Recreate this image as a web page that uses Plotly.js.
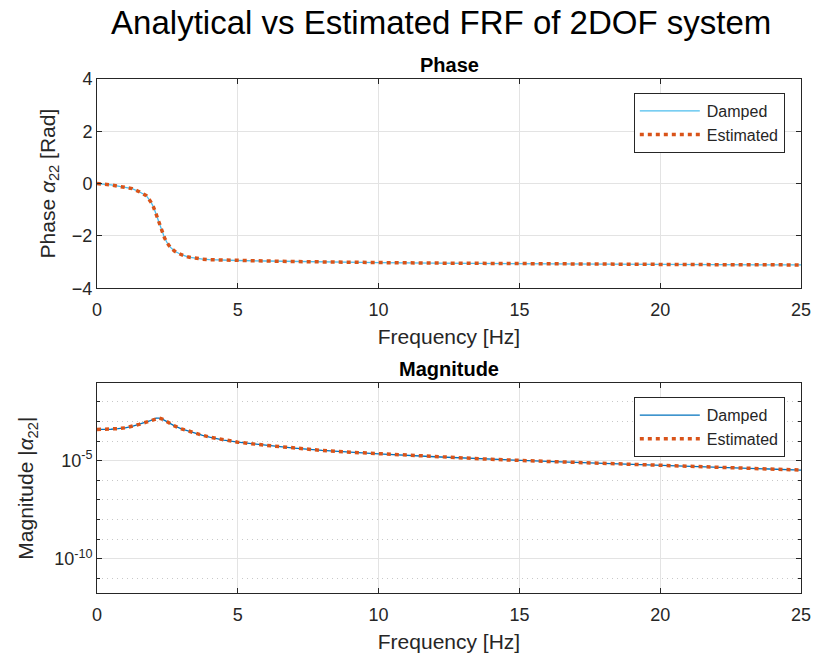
<!DOCTYPE html>
<html>
<head>
<meta charset="utf-8">
<script src="https://cdn.plot.ly/plotly-3.0.1.min.js"></script>
<style>html,body{margin:0;padding:0;background:#fff;}#chart{width:814px;height:654px;}</style>
</head>
<body>
<div id="chart"></div>
<script>
// Frequency grid (Hz)
const freq = [0,0.25,0.5,0.75,1,1.25,1.5,1.75,1.9,2.0,2.1,2.2,2.3,2.4,2.5,2.6,2.75,3,3.25,3.5,3.75,4,4.5,5,6,7,8,9,10,12,14,16,18,20,22,25];
// Phase of alpha22 (rad) - analytical (damped)
const phaseDamped = [0,-0.02,-0.05,-0.10,-0.14,-0.19,-0.31,-0.46,-0.68,-0.88,-1.17,-1.50,-1.82,-2.08,-2.28,-2.43,-2.58,-2.72,-2.81,-2.86,-2.89,-2.91,-2.93,-2.94,-2.96,-2.98,-3.00,-3.01,-3.02,-3.04,-3.06,-3.07,-3.08,-3.09,-3.10,-3.11];
// Phase - estimated
const phaseEstimated = [0,-0.02,-0.05,-0.10,-0.14,-0.19,-0.31,-0.46,-0.68,-0.88,-1.17,-1.50,-1.82,-2.08,-2.28,-2.43,-2.58,-2.72,-2.81,-2.86,-2.89,-2.91,-2.93,-2.94,-2.96,-2.98,-3.00,-3.01,-3.02,-3.04,-3.06,-3.07,-3.08,-3.09,-3.10,-3.11];
// Magnitude |alpha22| - analytical (damped)
const magDamped = [3.89e-4,3.89e-4,3.98e-4,4.27e-4,4.68e-4,5.62e-4,7.08e-4,9.12e-4,1.10e-3,1.26e-3,1.45e-3,1.48e-3,1.35e-3,1.12e-3,9.33e-4,7.76e-4,5.89e-4,4.17e-4,3.16e-4,2.45e-4,1.95e-4,1.58e-4,1.12e-4,8.71e-5,6.03e-5,4.37e-5,3.31e-5,2.69e-5,2.24e-5,1.58e-5,1.17e-5,9.12e-6,7.24e-6,5.89e-6,4.57e-6,3.31e-6];
// Magnitude - estimated
const magEstimated = [3.89e-4,3.89e-4,3.98e-4,4.27e-4,4.68e-4,5.62e-4,7.08e-4,9.12e-4,1.10e-3,1.26e-3,1.45e-3,1.48e-3,1.35e-3,1.12e-3,9.33e-4,7.76e-4,5.89e-4,4.17e-4,3.16e-4,2.45e-4,1.95e-4,1.58e-4,1.12e-4,8.71e-5,6.03e-5,4.37e-5,3.31e-5,2.69e-5,2.24e-5,1.58e-5,1.17e-5,9.12e-6,7.24e-6,5.89e-6,4.57e-6,3.31e-6];
// Tick labels
const xTicks = [0,5,10,15,20,25];
const phaseTicks = [-4,-2,0,2,4];
const magTickVals = [1e-10,1e-5];
const magTickText = ['10<sup>-10</sup>','10<sup>-5</sup>'];
const magMinorVals = [1e-11,1e-9,1e-8,1e-7,1e-6,1e-4,1e-3,1e-2];

const FONT = 'Liberation Sans, Arial, Helvetica, sans-serif';
const AX = '#262626';
const GRID = '#e3e3e3';

const traces = [
  {x: freq, y: phaseDamped, type:'scatter', mode:'lines', name:'Damped',
   line:{color:'#4DBEEE', width:1.3}, xaxis:'x', yaxis:'y', legend:'legend'},
  {x: freq, y: phaseEstimated, type:'scatter', mode:'lines', name:'Estimated',
   line:{color:'#D95319', width:3.5, dash:'4px,4px'}, xaxis:'x', yaxis:'y', legend:'legend'},
  {x: freq, y: magDamped, type:'scatter', mode:'lines', name:'Damped',
   line:{color:'#0072BD', width:1.3}, xaxis:'x2', yaxis:'y2', legend:'legend2'},
  {x: freq, y: magEstimated, type:'scatter', mode:'lines', name:'Estimated',
   line:{color:'#D95319', width:3.5, dash:'4px,4px'}, xaxis:'x2', yaxis:'y2', legend:'legend2'}
];

function xAxis(anchor){
  return {
    anchor: anchor, domain:[0,1], range:[0,25], tickvals: xTicks,
    showline:true, linecolor:AX, linewidth:1, mirror:'ticks',
    ticks:'inside', ticklen:5, tickcolor:AX, ticklabelstandoff:5,
    showgrid:true, gridcolor:GRID, gridwidth:1, zeroline:false,
    tickfont:{family:FONT, size:18, color:AX},
    title:{text:'Frequency [Hz]', font:{family:FONT, size:21, color:AX}, standoff:10}
  };
}

const legendCommon = {
  xanchor:'right', yanchor:'top', x:0.977,
  bgcolor:'#ffffff', bordercolor:AX, borderwidth:1,
  font:{family:FONT, size:16, color:AX}, tracegroupgap:0, itemwidth:62
};

const layout = {
  width:814, height:654,
  paper_bgcolor:'#ffffff', plot_bgcolor:'#ffffff',
  margin:{l:97, r:13, t:79, b:61},
  title:{text:'Analytical vs Estimated FRF of 2DOF system', x:0.542, xanchor:'center', y:0.983, yanchor:'top',
         font:{family:FONT, size:33, color:'#000000'}},
  showlegend:true,
  xaxis: xAxis('y'),
  yaxis: {
    domain:[0.593,1], range:[-4,4], tickvals: phaseTicks,
    showline:true, linecolor:AX, linewidth:1, mirror:'ticks',
    ticks:'inside', ticklen:5, tickcolor:AX,
    showgrid:true, gridcolor:GRID, gridwidth:1, zeroline:false,
    tickfont:{family:FONT, size:18, color:AX},
    title:{text:'Phase <i>α</i><sub>22</sub> [Rad]', font:{family:FONT, size:21, color:AX}, standoff:10}
  },
  xaxis2: xAxis('y2'),
  yaxis2: {
    domain:[0,0.408], type:'log', range:[-11.74,-1.06],
    tickmode:'array', tickvals: magTickVals, ticktext: magTickText,
    showline:true, linecolor:AX, linewidth:1, mirror:'ticks',
    ticks:'inside', ticklen:5, tickcolor:AX,
    showgrid:true, gridcolor:GRID, gridwidth:1, zeroline:false,
    tickfont:{family:FONT, size:18, color:AX},
    minor:{tickmode:'array', tickvals: magMinorVals, ticks:'inside', ticklen:3, tickcolor:AX,
           showgrid:true, gridcolor:'#c8c8c8', griddash:'1px,4px', gridwidth:1},
    title:{text:'Magnitude |<i>α</i><sub>22</sub>|', font:{family:FONT, size:21, color:AX}, standoff:14}
  },
  legend: Object.assign({}, legendCommon, {y:0.973}),
  legend2: Object.assign({}, legendCommon, {y:0.381}),
  annotations:[
    {text:'<b>Phase</b>', xref:'paper', yref:'paper', x:0.5, y:1.0, yshift:1, xanchor:'center', yanchor:'bottom',
     showarrow:false, font:{family:FONT, size:20, color:'#000000'}},
    {text:'<b>Magnitude</b>', xref:'paper', yref:'paper', x:0.5, y:0.408, yshift:1, xanchor:'center', yanchor:'bottom',
     showarrow:false, font:{family:FONT, size:20, color:'#000000'}}
  ]
};

Plotly.newPlot('chart', traces, layout, {staticPlot:true, displayModeBar:false}).then(function(gd){
  // lengthen legend line samples to match the itemwidth
  gd.querySelectorAll('.legendlines path').forEach(function(p){
    p.setAttribute('d', 'M5,0h60');
  });
});
</script>
</body>
</html>
